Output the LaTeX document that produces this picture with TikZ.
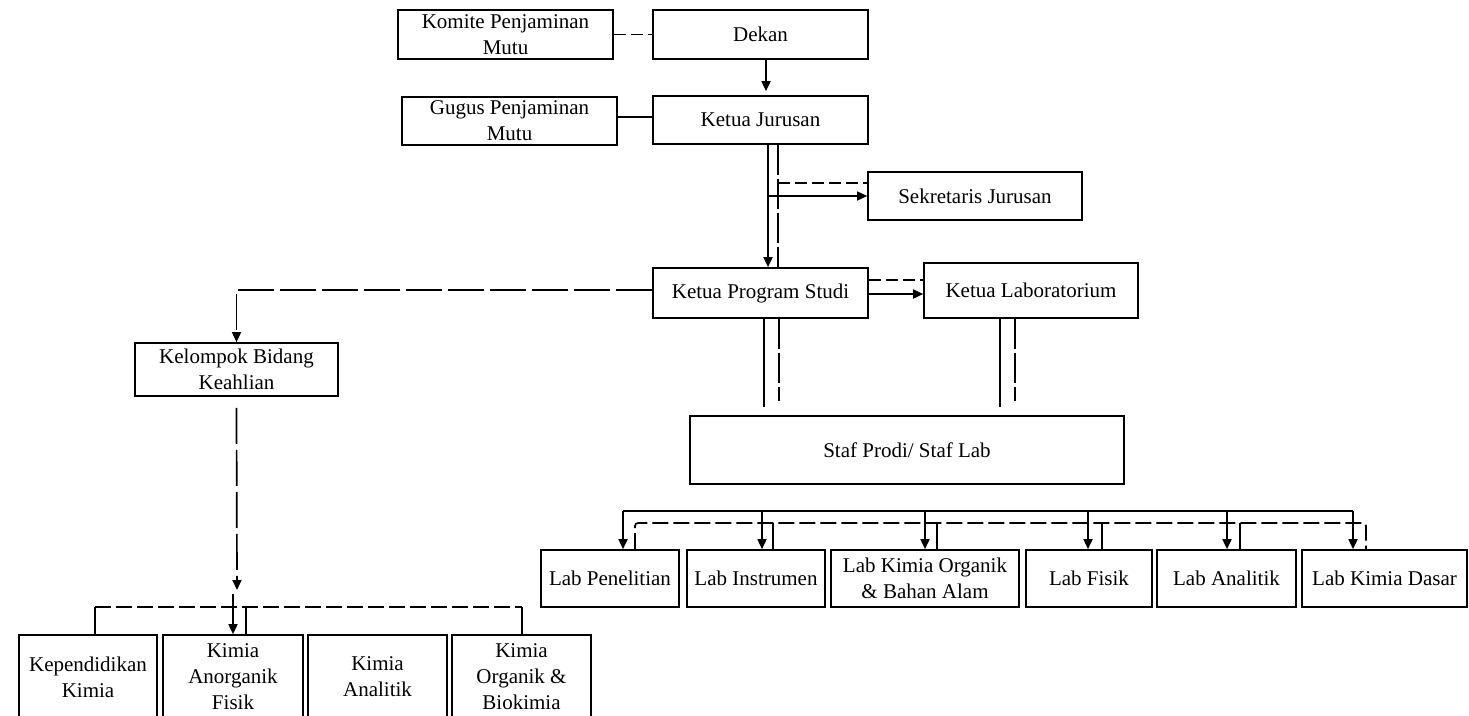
\documentclass[tikz,border=0pt]{standalone}
\usepackage{fontspec}
\setmainfont{Liberation Serif}
\usetikzlibrary{arrows.meta}
\begin{document}
\begin{tikzpicture}[x=1pt,y=-1pt,
  box/.style={draw, line width=1.7pt, inner sep=2pt, align=center, font=\fontsize{21}{26}\selectfont},
  ln/.style={line width=1.7pt},
  tip/.style={-{Triangle[width=9pt,length=10pt]}},
  arr/.style={ln, tip},
  dsh/.style={ln, dash pattern=on 16pt off 5pt},
  dshs/.style={ln, dash pattern=on 12pt off 5pt},
  dshv/.style={ln, dash pattern=on 30pt off 4pt},
  dshl/.style={ln, dash pattern=on 36pt off 6pt}]
\useasboundingbox (0,0) rectangle (1469,715);
\clip (0,0) rectangle (1469,715);

% top nodes
\node[box, minimum width=215pt, minimum height=49pt] (komite) at (505.5,34.5) {Komite Penjaminan\\Mutu};
\node[box, minimum width=215pt, minimum height=49pt] (dekan) at (760.5,34.5) {Dekan};
\node[box, minimum width=215pt, minimum height=48pt] (gugus) at (509.5,121) {Gugus Penjaminan\\Mutu};
\node[box, minimum width=215pt, minimum height=48pt] (kajur) at (760.5,120) {Ketua Jurusan};
\node[box, minimum width=214pt, minimum height=48pt] (sekjur) at (975,196) {Sekretaris Jurusan};
\node[box, minimum width=215pt, minimum height=50pt] (kaprodi) at (760.5,293) {Ketua Program Studi};
\node[box, minimum width=214pt, minimum height=55pt] (kalab) at (1031,290.5) {Ketua Laboratorium};
\node[box, minimum width=203pt, minimum height=53pt] (kbk) at (236.5,369.5) {Kelompok Bidang\\Keahlian};
\node[box, minimum width=434pt, minimum height=68pt] (staf) at (907,450) {Staf Prodi/ Staf Lab};

% lab row
\node[box, minimum width=138pt, minimum height=57pt] (lp) at (610,578.5) {Lab Penelitian};
\node[box, minimum width=138pt, minimum height=57pt] (li) at (756,578.5) {Lab Instrumen};
\node[box, minimum width=188pt, minimum height=57pt] (lko) at (925,578.5) {Lab Kimia Organik\\\& Bahan Alam};
\node[box, minimum width=126pt, minimum height=57pt] (lf) at (1089,578.5) {Lab Fisik};
\node[box, minimum width=139pt, minimum height=57pt] (la) at (1226.5,578.5) {Lab Analitik};
\node[box, minimum width=165pt, minimum height=57pt] (lkd) at (1384.5,578.5) {Lab Kimia Dasar};

% bottom row
\node[box, minimum width=138pt, minimum height=84pt] (kk) at (88,677) {Kependidikan\\Kimia};
\node[box, minimum width=140pt, minimum height=84pt] (kaf) at (233,677) {Kimia\\Anorganik\\Fisik};
\node[box, minimum width=139pt, minimum height=84pt] (kan) at (377.5,677) {Kimia\\Analitik};
\node[box, minimum width=139pt, minimum height=84pt] (kob) at (521.5,677) {Kimia\\Organik \&\\Biokimia};

% top connectors
\draw[dshs] (komite.east) -- (komite.east -| dekan.west);
\draw[arr] ([xshift=5.5pt]dekan.south) -- ([xshift=5.5pt,yshift=4pt]kajur.north);
\draw[ln] ([yshift=4pt]gugus.east) -- ([yshift=4pt]gugus.east -| kajur.west);

\draw[arr] ([xshift=7.5pt]kajur.south) -- ([xshift=7.5pt]kaprodi.north);
\draw[dshv] ([xshift=17.5pt]kajur.south) -- ([xshift=17.5pt]kaprodi.north);
\coordinate (j1) at (778,183);
\coordinate (j2) at (768,196);
\draw[dshs] (j1) -- (j1 -| sekjur.west);
\draw[arr] (j2) -- (sekjur.west);

\draw[arr] ([yshift=-1pt]kaprodi.east) -- ([yshift=-1pt]kaprodi.east -| kalab.west);
\draw[dshs] ([yshift=13pt]kaprodi.east) -- ([yshift=13pt]kaprodi.east -| kalab.west);

\draw[dshl, tip] ([yshift=3pt]kaprodi.west) -| (kbk.north);

% to staf
\coordinate (v1) at (764,407);
\coordinate (v2) at (779,401);
\coordinate (v3) at (1000,407);
\coordinate (v4) at (1015,401);
\draw[ln] (v1 |- kaprodi.south) -- (v1);
\draw[dshv] (v2 |- kaprodi.south) -- (v2);
\draw[ln] (v3 |- kalab.south) -- (v3);
\draw[dshv] (v4 |- kalab.south) -- (v4);

% staf to labs
\coordinate (s1) at (623,511);
\coordinate (s2) at (762,511);
\coordinate (s3) at (925,511);
\coordinate (s4) at (1088,511);
\coordinate (s5) at (1227,511);
\coordinate (s6) at (1353,511);
\draw[ln] (s1) -- (s6);
\draw[arr] (s1) -- (s1 |- lp.north);
\draw[arr] (s2) -- (s2 |- li.north);
\draw[arr] (s3) -- (s3 |- lko.north);
\draw[arr] (s4) -- (s4 |- lf.north);
\draw[arr] (s5) -- (s5 |- la.north);
\draw[arr] (s6) -- (s6 |- lkd.north);

\coordinate (d1) at (635,523);
\coordinate (d2) at (773,523);
\coordinate (d3) at (937,523);
\coordinate (d4) at (1102,523);
\coordinate (d5) at (1240,523);
\coordinate (d6) at (1366,523);
\draw[dsh, rounded corners=3pt] (d1 |- lp.north) -- (d1) -- (d6) -- (d6 |- lkd.north);
\draw[ln] (d2) -- (d2 |- li.north);
\draw[ln] (d3) -- (d3 |- lko.north);
\draw[ln] (d4) -- (d4 |- lf.north);
\draw[ln] (d5) -- (d5 |- la.north);

% kbk to bottom row
\coordinate (k1) at (237,590);
\coordinate (k2) at (233,594);
\draw[dshl, tip] ([yshift=-11pt]kbk.south) -- (k1);
\draw[arr] (k2) -- (k2 |- kaf.north);
\coordinate (b1) at (95,607);
\coordinate (b2) at (522,607);
\coordinate (b3) at (246,607);
\draw[dsh] (b1) -- (b2);
\draw[ln] (b1) -- (b1 |- kk.north);
\draw[ln] (b2) -- (b2 |- kob.north);
\draw[ln] (b3) -- (b3 |- kaf.north);
\end{tikzpicture}
\end{document}
